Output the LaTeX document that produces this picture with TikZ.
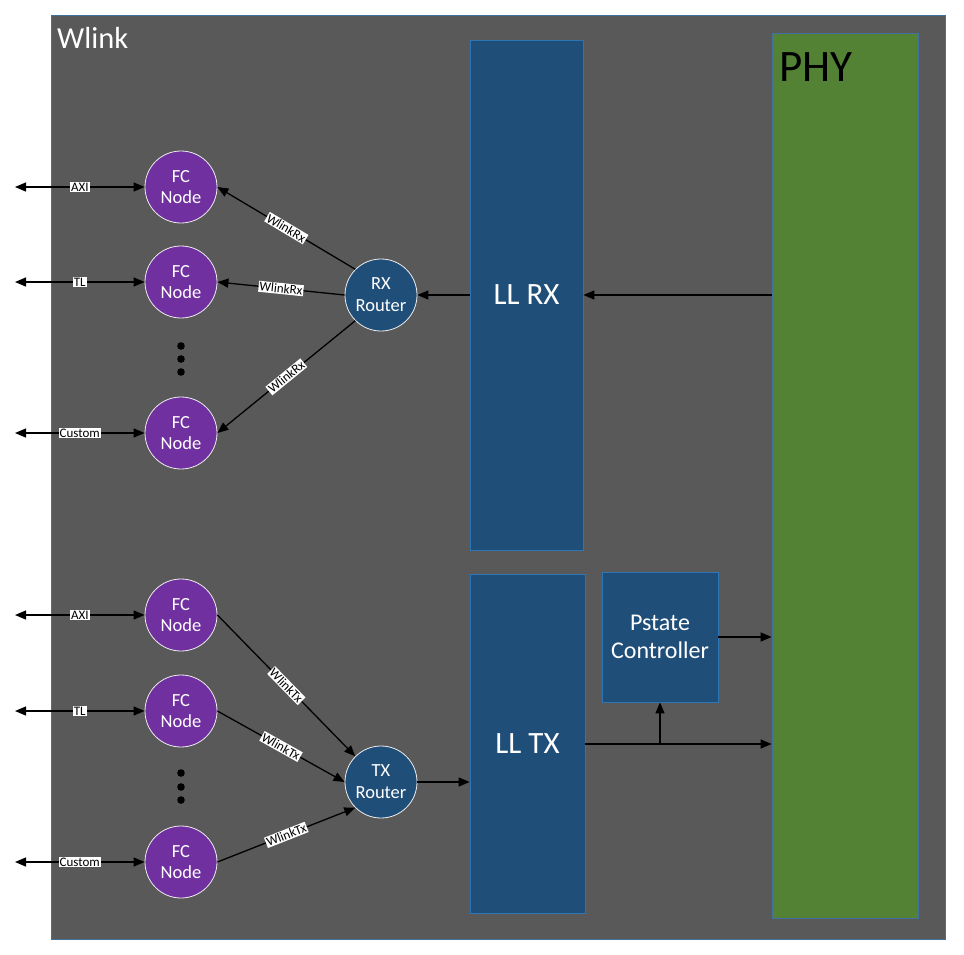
\documentclass[tikz,border=0pt]{standalone}
\usepackage{fontspec}
\setmainfont{Carlito}
\usetikzlibrary{arrows.meta}
\definecolor{wgray}{HTML}{595959}
\definecolor{wborder}{HTML}{41719C}
\definecolor{dblue}{HTML}{1F4E79}
\definecolor{bborder}{HTML}{2E75B6}
\definecolor{phygreen}{HTML}{548235}
\definecolor{fcpurple}{HTML}{7030A0}
\tikzset{
  arr/.style={line width=1.3pt, -{Triangle[length=11pt,width=9pt]}},
  darr/.style={line width=1.3pt, {Triangle[length=11pt,width=9pt]}-{Triangle[length=11pt,width=9pt]}},
  fcnode/.style={circle, fill=fcpurple, draw=white!85!gray, line width=0.8pt, minimum size=72pt, inner sep=0pt, text=white, align=center, font=\fontsize{18.5}{21}\selectfont},
  router/.style={circle, fill=dblue, draw=white!85!gray, line width=0.8pt, minimum size=72pt, inner sep=0pt, text=white, align=center, font=\fontsize{18.5}{22}\selectfont},
  block/.style={rectangle, fill=dblue, draw=bborder, line width=0.8pt, inner sep=0pt, text=white, align=center},
  lab/.style={fill=white, text=black, inner sep=1pt, font=\fontsize{13}{13}\selectfont},
}
\begin{document}
\begin{tikzpicture}[x=1pt,y=-1pt]
\useasboundingbox (0,0) rectangle (964,954);
\fill[white] (0,0) rectangle (964,954);
% Wlink container
\draw[wborder, fill=wgray, line width=0.8pt] (51,15) rectangle (945,939);
\node[anchor=base west, text=white, inner sep=0pt, font=\fontsize{30.5}{30}\selectfont] (wlink) at (57,48) {Wlink};
% PHY
\node[rectangle, fill=phygreen, draw=wborder, line width=0.8pt, minimum width=146pt, minimum height=885pt, inner sep=0pt] (phy) at (845,475.5) {};
\node[anchor=base west, text=black, inner sep=0pt, font=\fontsize{45}{45}\selectfont] (phytext) at (779,81) {PHY};
% LL blocks
\node[block, minimum width=113pt, minimum height=510pt, font=\fontsize{31}{31}\selectfont] (llrx) at (526.5,295) {LL RX};
\node[block, minimum width=115pt, minimum height=339pt, font=\fontsize{31}{31}\selectfont] (lltx) at (527.5,744) {LL TX};
\node[block, minimum width=116pt, minimum height=130pt, font=\fontsize{24}{28}\selectfont] (pstate) at (660,637) {Pstate\\Controller};
% Routers
\node[router] (rx) at (381,295) {RX\\Router};
\node[router] (tx) at (381,782) {TX\\Router};
% FC nodes
\node[fcnode] (fc1) at (181,187) {FC\\Node};
\node[fcnode] (fc2) at (181,282) {FC\\Node};
\node[fcnode] (fc3) at (181,433) {FC\\Node};
\node[fcnode] (fc4) at (181,615) {FC\\Node};
\node[fcnode] (fc5) at (181,711) {FC\\Node};
\node[fcnode] (fc6) at (181,862) {FC\\Node};
% dots
\fill[black] (181,346) circle (3.8) (181,359) circle (3.8) (181,372) circle (3.8);
\fill[black] (181,773) circle (3.8) (181,787) circle (3.8) (181,800) circle (3.8);
% left external coordinates
\coordinate (e1) at (15,187);
\coordinate (e2) at (15,282);
\coordinate (e3) at (15,433);
\coordinate (e4) at (15,615);
\coordinate (e5) at (15,711);
\coordinate (e6) at (15,862);
\draw[darr] (e1) -- (fc1.west) node[midway, lab] {AXI};
\draw[darr] (e2) -- (fc2.west) node[midway, lab] {TL};
\draw[darr] (e3) -- (fc3.west) node[midway, lab] {Custom};
\draw[darr] (e4) -- (fc4.west) node[midway, lab] {AXI};
\draw[darr] (e5) -- (fc5.west) node[midway, lab] {TL};
\draw[darr] (e6) -- (fc6.west) node[midway, lab] {Custom};
% RX path
\draw[arr] (phy.west |- llrx.east) -- (llrx.east);
\draw[arr] (llrx.west) -- (rx.east);
\draw[arr] (rx.135) -- (fc1.east) node[midway, lab, sloped] {WlinkRx};
\draw[arr] (rx.west) -- (fc2.east) node[midway, lab, sloped] {WlinkRx};
\draw[arr] (rx.225) -- (fc3.east) node[midway, lab, sloped] {WlinkRx};
% TX path
\draw[arr] (fc4.east) -- (tx.135) node[midway, lab, sloped] {WlinkTx};
\draw[arr] (fc5.east) -- (tx.west) node[midway, lab, sloped] {WlinkTx};
\draw[arr] (fc6.east) -- (tx.225) node[midway, lab, sloped] {WlinkTx};
\draw[arr] (tx.east) -- (tx.east -| lltx.west);
\draw[arr] (lltx.east) -- (lltx.east -| phy.west);
\coordinate (br) at (pstate.south |- lltx.east);
\draw[arr] (br) -- (pstate.south);
\draw[arr] (pstate.east) -- (pstate.east -| phy.west);
\end{tikzpicture}
\end{document}
